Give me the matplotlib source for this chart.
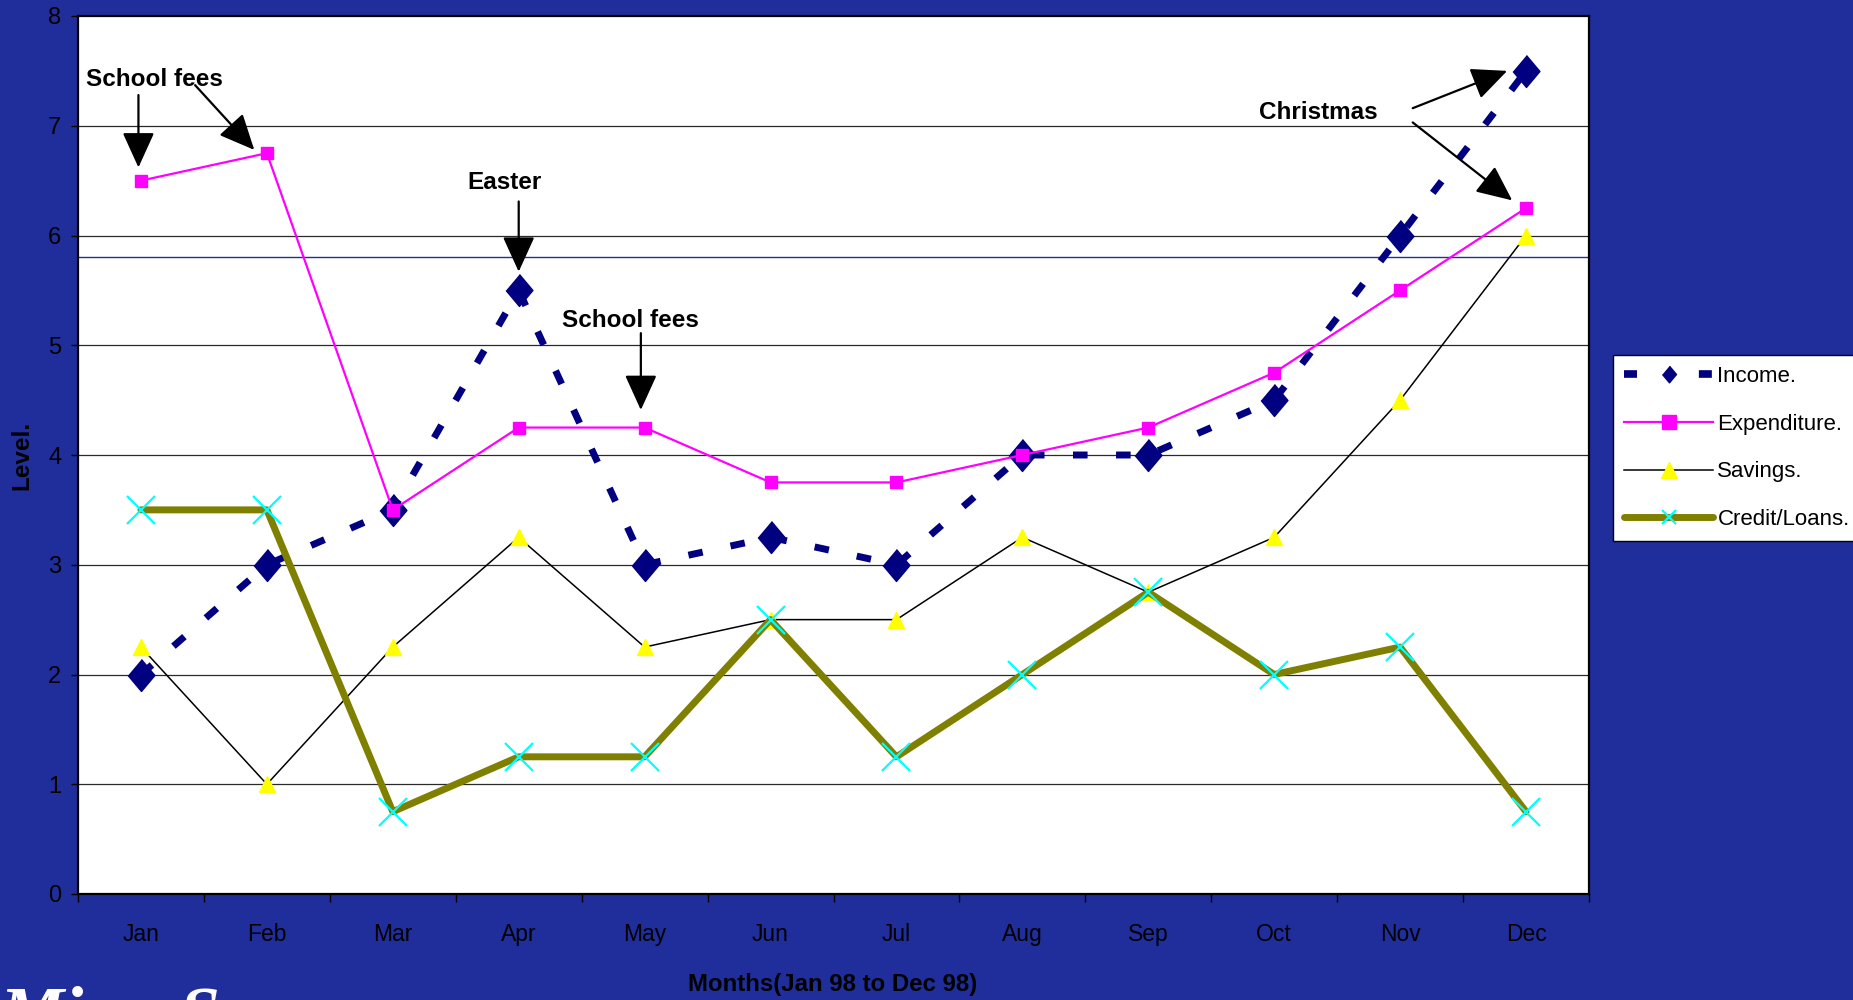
import matplotlib
matplotlib.use("Agg")
import matplotlib.pyplot as plt
from matplotlib.lines import Line2D

# ---- data -------------------------------------------------------------
months = ["Jan", "Feb", "Mar", "Apr", "May", "Jun",
          "Jul", "Aug", "Sep", "Oct", "Nov", "Dec"]
income = [2, 3, 3.5, 5.5, 3, 3.25, 3, 4, 4, 4.5, 6, 7.5]
expenditure = [6.5, 6.75, 3.5, 4.25, 4.25, 3.75, 3.75, 4, 4.25, 4.75, 5.5, 6.25]
savings = [2.25, 1, 2.25, 3.25, 2.25, 2.5, 2.5, 3.25, 2.75, 3.25, 4.5, 6]
credit = [3.5, 3.5, 0.75, 1.25, 1.25, 2.5, 1.25, 2, 2.75, 2, 2.25, 0.75]
series_names = ["Income.", "Expenditure.", "Savings.", "Credit/Loans."]
y_ticks = [0, 1, 2, 3, 4, 5, 6, 7, 8]
reference_level = 5.8

SANS = "Liberation Sans"
SERIF = "Liberation Serif"

BG = "#202E9C"
NAVY = "#000080"
MAGENTA = "#FF00FF"
OLIVE = "#808000"
CYAN = "#00FFFF"
YELLOW = "#FFFF00"
DIAMOND = [(0, 1), (0.84, 0), (0, -1), (-0.84, 0)]

fig = plt.figure(figsize=(18.53, 10.0), dpi=100, facecolor=BG)
ax = fig.add_axes([78 / 1853, 1 - 894 / 1000, (1589 - 78) / 1853, (894 - 16) / 1000])
ax.set_facecolor("white")

x = list(range(len(months)))

# series
ax.plot(x, income, color=NAVY, lw=5, dashes=(2.1, 4.1), dash_capstyle="butt",
        marker=DIAMOND, markersize=23,
        markerfacecolor=NAVY, markeredgecolor=NAVY, zorder=3)
ax.plot(x, expenditure, color=MAGENTA, lw=1.6, marker="s", markersize=8.5,
        markerfacecolor=MAGENTA, markeredgecolor=MAGENTA, zorder=4)
ax.plot(x, savings, color="black", lw=1.1, marker="^", markersize=11,
        markerfacecolor=YELLOW, markeredgecolor=YELLOW, zorder=5)
ax.plot(x, credit, color=OLIVE, lw=5, solid_capstyle="round", solid_joinstyle="round",
        marker="x", markersize=20, markeredgewidth=1.6,
        markeredgecolor=CYAN, zorder=6)

# grid and reference line
for v in y_ticks[1:-1]:
    ax.axhline(v, color="#2a2a2a", lw=0.9, zorder=1)
ax.axhline(reference_level, color=BG, lw=1.0, zorder=1)

ax.set_xlim(-0.5, len(months) - 0.5)
ax.set_ylim(0, 8)
ax.set_yticks(y_ticks)
ax.set_yticklabels([str(v) for v in y_ticks], fontsize=17, family=SANS)
ax.set_xticks(x)
ax.set_xticklabels(months, fontsize=16.5, family=SANS)
ax.set_xticks([i - 0.5 for i in range(len(months) + 1)], minor=True)
ax.tick_params(axis="x", which="major", length=0, pad=21, colors="black")
ax.tick_params(axis="x", which="minor", length=6, width=1, direction="out", color="black")
ax.tick_params(axis="y", length=5, width=1, direction="out", pad=7, colors="black")
for s in ax.spines.values():
    s.set_color("black")
    s.set_linewidth(1.6)

fig.text(22 / 1853, 1 - 455 / 1000, "Level.", rotation=90, fontsize=17.5,
         fontweight="bold", family=SANS, ha="center", va="center")
fig.text(833 / 1853, 1 - 984 / 1000, "Months(Jan 98 to Dec 98)", fontsize=17.3,
         fontweight="bold", family=SANS, ha="center", va="center")

# annotations
ann_font = dict(fontsize=17.5, fontweight="bold", family=SANS, color="black")
arrow = dict(arrowstyle="-|>,head_length=1.1,head_width=0.5", color="black",
             lw=1.6, mutation_scale=20, shrinkA=0, shrinkB=0)
ax.text(0.11, 7.42, "School fees", ha="center", va="center", **ann_font)
ax.annotate("", xy=(-0.02, 6.62), xytext=(-0.02, 7.28), arrowprops=arrow)
ax.annotate("", xy=(0.9, 6.78), xytext=(0.43, 7.37), arrowprops=arrow)
ax.text(2.89, 6.48, "Easter", ha="center", va="center", **ann_font)
ax.annotate("", xy=(3.0, 5.67), xytext=(3.0, 6.31), arrowprops=arrow)
ax.text(3.89, 5.23, "School fees", ha="center", va="center", **ann_font)
ax.annotate("", xy=(3.97, 4.41), xytext=(3.97, 5.11), arrowprops=arrow)
ax.text(9.35, 7.12, "Christmas", ha="center", va="center", **ann_font)
ax.annotate("", xy=(10.85, 7.5), xytext=(10.1, 7.16), arrowprops=arrow)
ax.annotate("", xy=(10.89, 6.32), xytext=(10.1, 7.03), arrowprops=arrow)

# legend
handles = [
    Line2D([], [], color=NAVY, lw=5.5, dashes=(1.7, 8.1), dash_capstyle="butt",
           marker=DIAMOND, markersize=12,
           markerfacecolor=NAVY, markeredgecolor=NAVY),
    Line2D([], [], color=MAGENTA, lw=1.6, marker="s", markersize=9.5,
           markerfacecolor=MAGENTA, markeredgecolor=MAGENTA),
    Line2D([], [], color="black", lw=1.1, marker="^", markersize=11,
           markerfacecolor=YELLOW, markeredgecolor=YELLOW),
    Line2D([], [], color=OLIVE, lw=5, solid_capstyle="round", marker="x",
           markersize=10, markeredgewidth=1.6, markeredgecolor=CYAN),
]
leg = fig.legend(handles, series_names, loc="upper left",
                 bbox_to_anchor=(1613 / 1853, 1 - 355 / 1000), borderaxespad=0,
                 prop=dict(family=SANS, size=16), handlelength=4.0,
                 handletextpad=0.2, labelspacing=1.2, borderpad=0.5,
                 fancybox=False, framealpha=1, edgecolor="black")
leg.get_frame().set_linewidth(1.0)

# logo text at the bottom, partly outside the canvas
fig.text(0.0, 1 - 1036 / 1000, "MicroSave", fontsize=52, style="italic",
         fontweight="bold", family=SERIF, color="white", ha="left", va="baseline")

fig.savefig("out.png", dpi=100, facecolor=BG)
